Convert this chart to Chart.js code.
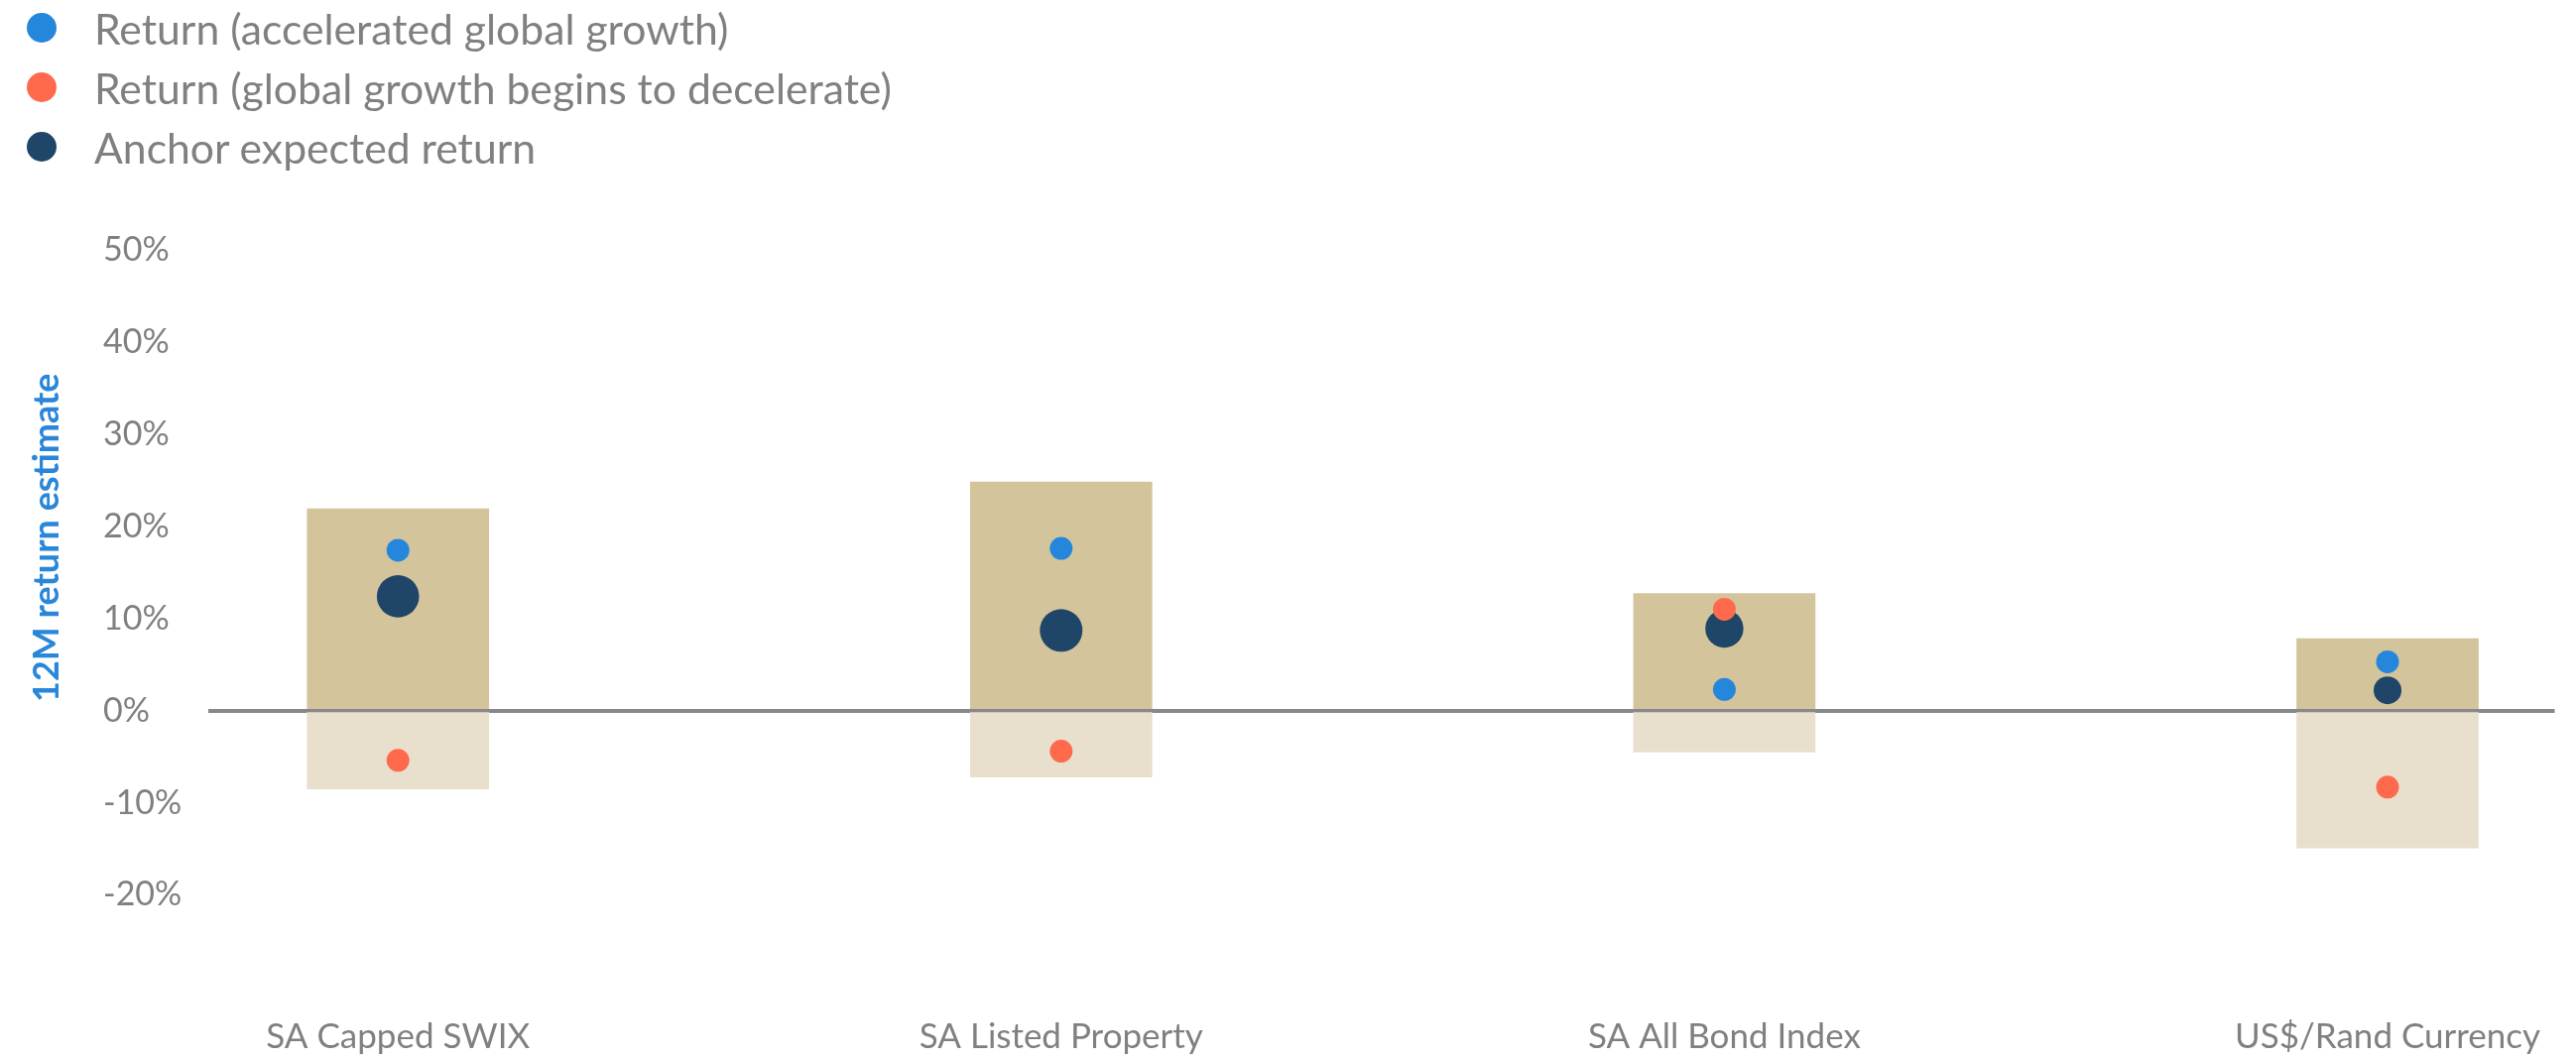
<!DOCTYPE html>
<html>
<head>
<meta charset="utf-8">
<script src="https://cdn.jsdelivr.net/npm/chart.js@4.4.1/dist/chart.umd.min.js"></script>
<style>
    body { margin: 0; background: #fff; }
    #quadro { position: relative; width: 2597px; height: 1068px; }
    #legenda { position: absolute; left: 27px; top: -2px; font: 42.7px Lato, sans-serif; color: #808083; }
    #legenda div { height: 60px; display: flex; align-items: center; white-space: nowrap; }
    #legenda span { display: inline-block; width: 30px; height: 30px; border-radius: 50%; margin-right: 38px; }
</style>
</head>
<body>
<div id="quadro">
    <div id="legenda"></div>
    <canvas id="grafico" width="2597" height="1068"></canvas>
</div>
<script>
// Dados do grafico
var categories = ['SA Capped SWIX', 'SA Listed Property', 'SA All Bond Index', 'US$/Rand Currency'];
var returnAccel = [17.4, 17.6, 2.3, 5.3];
var returnDecel = [-5.4, -4.4, 11.0, -8.3];
var anchorReturn = [12.4, 8.7, 8.9, 2.2];
var rangeHigh = [21.9, 24.8, 12.7, 7.8];
var rangeLow = [-8.5, -7.2, -4.5, -14.9];
var yTicks = [-20, -10, 0, 10, 20, 30, 40, 50];

var textColor = '#808083';

function points(values) {
    return values.map(function(v, i) { return {x: i, y: v}; });
}
function bars(values) {
    return values.map(function(v, i) { return {x: i, y: [0, v]}; });
}

// titulo do eixo y
var yTitle = {
    id: 'yTitle',
    afterDraw: function(chart) {
        var c = chart.ctx;
        var area = chart.chartArea;
        c.save();
        c.translate(47.5, (area.top + area.bottom) / 2 - 35);
        c.rotate(-Math.PI / 2);
        c.textAlign = 'center';
        c.textBaseline = 'middle';
        c.font = 'bold 36px Lato';
        c.fillStyle = '#2a86d8';
        c.fillText('12M return estimate', 0, 0);
        c.restore();
    }
};

window.onload = function(){
    var contexto = document.getElementById('grafico').getContext('2d');
    var grafico = new Chart(contexto, {
        type: 'bar',
        data: {
            datasets: [{
                type: 'scatter',
                label: 'Return (accelerated global growth)',
                data: points(returnAccel),
                backgroundColor: '#2587db',
                borderWidth: 0,
                pointRadius: 11.5
            }, {
                type: 'scatter',
                label: 'Return (global growth begins to decelerate)',
                data: points(returnDecel),
                backgroundColor: '#ff6a4d',
                borderWidth: 0,
                pointRadius: 11.5
            }, {
                type: 'scatter',
                label: 'Anchor expected return',
                data: points(anchorReturn),
                backgroundColor: '#1f4569',
                borderWidth: 0,
                pointRadius: [21.3, 21.5, 19.2, 14]
            }, {
                label: 'Upside',
                data: bars(rangeHigh),
                backgroundColor: '#d3c49b',
                grouped: false,
                barThickness: 183
            }, {
                label: 'Downside',
                data: bars(rangeLow),
                backgroundColor: '#e8e0cd',
                grouped: false,
                barThickness: 183
            }]
        },
        options: {
            responsive: false,
            animation: false,
            layout: { padding: { top: 252, left: 104, right: 12, bottom: 0 } },
            plugins: {
                legend: { display: false },
                tooltip: { enabled: false }
            },
            scales: {
                x: {
                    type: 'linear',
                    offset: false,
                    min: -0.286,
                    max: 3.252,
                    grid: { display: false, offset: false },
                    border: { display: false },
                    afterBuildTicks: function(s) {
                        s.ticks = categories.map(function(c, i) { return {value: i}; });
                    },
                    afterFit: function(s) {
                        s.height = 165.5;
                        s.paddingLeft = 0;
                        s.paddingRight = 0;
                    },
                    ticks: {
                        autoSkip: false,
                        maxRotation: 0,
                        padding: 114,
                        color: textColor,
                        font: { family: 'Lato', size: 35 },
                        callback: function(v) { return categories[v]; }
                    }
                },
                y: {
                    min: -20,
                    max: 50,
                    z: 1,
                    border: { display: false },
                    grid: {
                        drawTicks: false,
                        lineWidth: 4,
                        color: function(c) { return c.tick && c.tick.value === 0 ? '#88888c' : 'transparent'; }
                    },
                    afterBuildTicks: function(s) {
                        s.ticks = yTicks.map(function(v) { return {value: v}; });
                    },
                    afterFit: function(s) { s.width = 106; },
                    ticks: {
                        crossAlign: 'far',
                        color: textColor,
                        font: { family: 'Lato', size: 34 },
                        callback: function(v) { return v + '%'; }
                    }
                }
            }
        },
        plugins: [yTitle]
    });

    // legenda em html, so com as series de pontos
    var legenda = document.getElementById('legenda');
    grafico.data.datasets.slice(0, 3).forEach(function(ds) {
        var linha = document.createElement('div');
        var bola = document.createElement('span');
        bola.style.background = ds.backgroundColor;
        linha.appendChild(bola);
        linha.appendChild(document.createTextNode(ds.label));
        legenda.appendChild(linha);
    });
}
</script>
</body>
</html>
